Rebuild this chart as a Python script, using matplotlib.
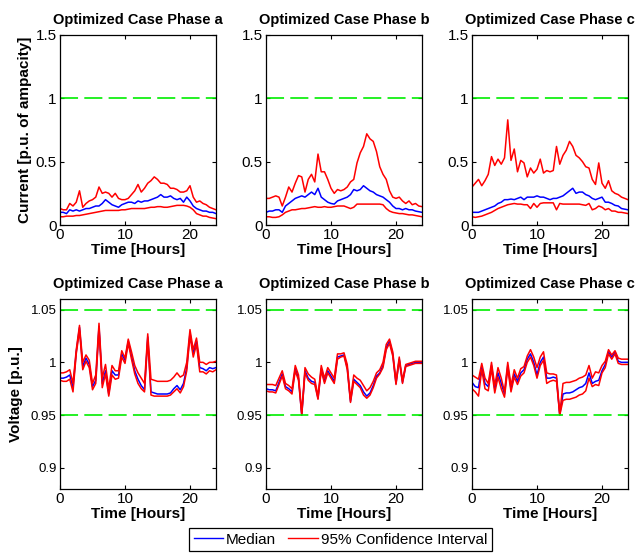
import numpy as np
import matplotlib
matplotlib.use("Agg")
import matplotlib.pyplot as plt
from matplotlib.lines import Line2D

plt.rcParams['font.family'] = ['Liberation Sans', 'DejaVu Sans']
plt.rcParams['lines.scale_dashes'] = False

# time axis (hours), half-hour samples
hours = np.arange(0, 24.5, 0.5)

titles = ["Optimized Case Phase a", "Optimized Case Phase b", "Optimized Case Phase c"]
xticks = [0, 10, 20]
cur_yticks = [0, 0.5, 1, 1.5]
cur_yticklabels = ["0", "0.5", "1", "1.5"]
volt_yticks = [0.9, 0.95, 1, 1.05]
volt_yticklabels = ["0.9", "0.95", "1", "1.05"]
cur_limit = [1.0]
volt_limits = [0.95, 1.05]

# ---- Current (p.u. of ampacity) ----
cur_a_upper = [0.13, 0.12, 0.12, 0.17, 0.15, 0.18, 0.27, 0.14, 0.17, 0.19, 0.20, 0.22, 0.30, 0.25,
               0.26, 0.25, 0.22, 0.25, 0.21, 0.20, 0.20, 0.21, 0.24, 0.27, 0.32, 0.26, 0.29, 0.33,
               0.35, 0.38, 0.36, 0.33, 0.33, 0.32, 0.29, 0.29, 0.28, 0.26, 0.26, 0.27, 0.31, 0.22,
               0.18, 0.19, 0.17, 0.16, 0.14, 0.13, 0.12]
cur_a_median = [0.10, 0.10, 0.09, 0.12, 0.11, 0.12, 0.11, 0.12, 0.13, 0.13, 0.14, 0.15, 0.15, 0.17,
                0.20, 0.18, 0.16, 0.15, 0.14, 0.16, 0.17, 0.18, 0.18, 0.17, 0.19, 0.18, 0.19, 0.19,
                0.20, 0.21, 0.22, 0.24, 0.22, 0.22, 0.23, 0.21, 0.20, 0.21, 0.18, 0.22, 0.19, 0.15,
                0.13, 0.12, 0.11, 0.11, 0.10, 0.10, 0.09]
cur_a_lower = [0.065, 0.065, 0.07, 0.07, 0.07, 0.075, 0.075, 0.08, 0.085, 0.09, 0.095, 0.10, 0.105,
               0.11, 0.115, 0.115, 0.115, 0.115, 0.115, 0.12, 0.12, 0.125, 0.13, 0.13, 0.13, 0.13,
               0.13, 0.135, 0.14, 0.14, 0.145, 0.145, 0.14, 0.14, 0.145, 0.15, 0.155, 0.155, 0.155,
               0.15, 0.14, 0.12, 0.09, 0.08, 0.07, 0.07, 0.06, 0.055, 0.05]

cur_b_upper = [0.21, 0.21, 0.22, 0.23, 0.22, 0.15, 0.22, 0.30, 0.26, 0.33, 0.39, 0.38, 0.26, 0.36,
               0.40, 0.34, 0.56, 0.42, 0.42, 0.36, 0.29, 0.25, 0.28, 0.27, 0.28, 0.30, 0.34, 0.36,
               0.49, 0.57, 0.62, 0.72, 0.68, 0.66, 0.58, 0.46, 0.40, 0.36, 0.27, 0.22, 0.21, 0.22,
               0.19, 0.17, 0.19, 0.16, 0.17, 0.15, 0.145]
cur_b_median = [0.10, 0.11, 0.11, 0.12, 0.12, 0.10, 0.15, 0.17, 0.19, 0.21, 0.22, 0.23, 0.22, 0.24,
                0.26, 0.24, 0.29, 0.22, 0.20, 0.18, 0.17, 0.165, 0.19, 0.20, 0.21, 0.22, 0.24, 0.28,
                0.27, 0.28, 0.31, 0.29, 0.27, 0.26, 0.24, 0.23, 0.22, 0.20, 0.18, 0.15, 0.13, 0.13,
                0.12, 0.13, 0.12, 0.12, 0.11, 0.105, 0.10]
cur_b_lower = [0.065, 0.065, 0.06, 0.06, 0.065, 0.08, 0.10, 0.11, 0.12, 0.12, 0.125, 0.13, 0.13,
               0.135, 0.14, 0.145, 0.14, 0.14, 0.145, 0.14, 0.14, 0.145, 0.15, 0.15, 0.15, 0.14,
               0.13, 0.14, 0.165, 0.165, 0.165, 0.165, 0.165, 0.165, 0.165, 0.165, 0.16, 0.13,
               0.11, 0.10, 0.095, 0.09, 0.09, 0.085, 0.08, 0.08, 0.075, 0.07, 0.065]

cur_c_upper = [0.30, 0.33, 0.36, 0.31, 0.35, 0.40, 0.54, 0.47, 0.52, 0.48, 0.53, 0.83, 0.51, 0.60,
               0.42, 0.51, 0.49, 0.38, 0.45, 0.41, 0.44, 0.52, 0.41, 0.43, 0.42, 0.43, 0.62, 0.48,
               0.55, 0.59, 0.66, 0.62, 0.55, 0.53, 0.50, 0.46, 0.45, 0.36, 0.32, 0.49, 0.33, 0.29,
               0.35, 0.27, 0.25, 0.24, 0.22, 0.21, 0.20]
cur_c_median = [0.10, 0.10, 0.10, 0.11, 0.12, 0.13, 0.14, 0.15, 0.17, 0.18, 0.20, 0.20, 0.205, 0.20,
                0.21, 0.22, 0.20, 0.22, 0.22, 0.22, 0.23, 0.22, 0.22, 0.21, 0.20, 0.21, 0.21, 0.22,
                0.23, 0.25, 0.27, 0.29, 0.25, 0.26, 0.26, 0.24, 0.23, 0.21, 0.20, 0.21, 0.22, 0.18,
                0.18, 0.17, 0.155, 0.15, 0.13, 0.125, 0.12]
cur_c_lower = [0.065, 0.06, 0.065, 0.07, 0.08, 0.09, 0.10, 0.115, 0.13, 0.14, 0.15, 0.16, 0.165,
               0.17, 0.165, 0.165, 0.16, 0.16, 0.13, 0.17, 0.14, 0.17, 0.175, 0.175, 0.175, 0.175,
               0.12, 0.17, 0.165, 0.165, 0.165, 0.165, 0.165, 0.165, 0.16, 0.155, 0.17, 0.12,
               0.13, 0.15, 0.14, 0.12, 0.13, 0.11, 0.11, 0.10, 0.10, 0.095, 0.09]

# ---- Voltage (p.u.) ----
volt_a_upper = [0.990, 0.990, 0.991, 0.993, 0.980, 1.012, 1.035, 1.000, 1.007, 1.002, 0.980, 0.988,
                1.037, 0.985, 0.998, 0.975, 0.997, 0.992, 0.992, 1.011, 1.004, 1.022, 1.010, 0.997,
                0.990, 0.985, 0.980, 1.027, 0.984, 0.983, 0.982, 0.982, 0.982, 0.982, 0.983, 0.986,
                0.990, 0.986, 0.988, 1.000, 1.031, 1.012, 1.023, 1.000, 1.000, 0.998, 1.000, 1.000,
                1.001]
volt_a_median = [0.985, 0.985, 0.986, 0.988, 0.976, 1.010, 1.033, 0.996, 1.004, 0.998, 0.977, 0.983,
                 1.034, 0.980, 0.992, 0.970, 0.992, 0.988, 0.988, 1.008, 1.002, 1.020, 1.006, 0.992,
                 0.984, 0.978, 0.974, 1.024, 0.972, 0.971, 0.970, 0.970, 0.970, 0.970, 0.971, 0.975,
                 0.978, 0.974, 0.980, 0.995, 1.028, 1.008, 1.020, 0.995, 0.994, 0.992, 0.995, 0.994,
                 0.995]
volt_a_lower = [0.983, 0.982, 0.982, 0.984, 0.972, 1.008, 1.030, 0.993, 1.001, 0.995, 0.974, 0.980,
                1.031, 0.976, 0.989, 0.968, 0.988, 0.984, 0.985, 1.005, 0.999, 1.018, 1.003, 0.989,
                0.980, 0.975, 0.972, 1.021, 0.969, 0.968, 0.968, 0.968, 0.968, 0.968, 0.969, 0.972,
                0.975, 0.971, 0.977, 0.992, 1.025, 1.005, 1.017, 0.991, 0.991, 0.989, 0.992, 0.991,
                0.993]

volt_b_upper = [0.979, 0.979, 0.979, 0.978, 0.985, 0.992, 0.980, 0.978, 0.975, 0.997, 0.988, 0.952,
                0.995, 0.989, 0.986, 0.984, 0.968, 0.997, 0.985, 0.995, 0.990, 0.985, 1.008, 1.008,
                1.009, 0.998, 0.965, 0.988, 0.985, 0.983, 0.978, 0.973, 0.976, 0.982, 0.990, 0.993,
                1.000, 1.017, 1.022, 1.010, 0.982, 1.005, 0.983, 0.998, 0.999, 1.000, 1.001, 1.001,
                1.001]
volt_b_median = [0.975, 0.974, 0.974, 0.973, 0.981, 0.989, 0.977, 0.975, 0.972, 0.994, 0.985, 0.950,
                 0.992, 0.985, 0.982, 0.981, 0.966, 0.994, 0.982, 0.992, 0.987, 0.982, 1.005, 1.006,
                 1.007, 0.995, 0.963, 0.984, 0.981, 0.978, 0.972, 0.968, 0.971, 0.978, 0.987, 0.990,
                 0.997, 1.014, 1.020, 1.008, 0.980, 1.003, 0.981, 0.997, 0.998, 0.999, 1.000, 1.000,
                 1.000]
volt_b_lower = [0.973, 0.972, 0.972, 0.971, 0.979, 0.987, 0.975, 0.973, 0.970, 0.992, 0.983, 0.950,
                0.990, 0.983, 0.980, 0.979, 0.965, 0.992, 0.980, 0.990, 0.985, 0.980, 1.003, 1.005,
                1.006, 0.993, 0.962, 0.982, 0.979, 0.976, 0.969, 0.966, 0.969, 0.976, 0.985, 0.989,
                0.995, 1.012, 1.018, 1.006, 0.979, 1.002, 0.980, 0.996, 0.997, 0.998, 0.999, 0.999,
                0.999]

volt_c_upper = [0.988, 0.986, 0.984, 0.999, 0.985, 0.980, 1.000, 0.978, 0.995, 0.985, 0.972, 1.000,
                0.978, 0.993, 0.985, 0.994, 0.996, 1.006, 1.012, 1.005, 0.995, 1.005, 1.010, 0.990,
                0.989, 0.989, 0.988, 0.951, 0.980, 0.981, 0.981, 0.982, 0.983, 0.985, 0.986, 0.988,
                0.997, 0.985, 0.991, 0.990, 0.997, 1.001, 1.012, 1.007, 1.011, 1.004, 1.003, 1.003,
                1.003]
volt_c_median = [0.981, 0.977, 0.976, 0.996, 0.980, 0.977, 0.997, 0.975, 0.990, 0.980, 0.970, 0.997,
                 0.975, 0.989, 0.982, 0.990, 0.993, 1.003, 1.008, 1.000, 0.988, 1.000, 1.005, 0.985,
                 0.985, 0.986, 0.985, 0.950, 0.970, 0.971, 0.971, 0.972, 0.974, 0.976, 0.977, 0.980,
                 0.990, 0.980, 0.982, 0.983, 0.992, 0.998, 1.010, 1.005, 1.010, 1.001, 1.000, 1.000,
                 1.000]
volt_c_lower = [0.975, 0.972, 0.968, 0.993, 0.975, 0.973, 0.994, 0.971, 0.986, 0.975, 0.967, 0.994,
                0.972, 0.986, 0.979, 0.987, 0.990, 1.000, 1.005, 0.997, 0.985, 0.997, 1.002, 0.980,
                0.982, 0.983, 0.982, 0.950, 0.964, 0.965, 0.965, 0.966, 0.967, 0.969, 0.970, 0.973,
                0.985, 0.977, 0.979, 0.978, 0.990, 0.995, 1.008, 1.003, 1.008, 0.999, 0.998, 0.998,
                0.998]

current = [(cur_a_median, cur_a_upper, cur_a_lower),
           (cur_b_median, cur_b_upper, cur_b_lower),
           (cur_c_median, cur_c_upper, cur_c_lower)]
voltage = [(volt_a_median, volt_a_upper, volt_a_lower),
           (volt_b_median, volt_b_upper, volt_b_lower),
           (volt_c_median, volt_c_upper, volt_c_lower)]

W, H = 639, 555
fig = plt.figure(figsize=(W / 100, H / 100), dpi=100)

lefts = [60, 266, 472]
axw, axh = 156, 190
tops = [35, 299]

BLUE = '#0000ff'
RED = '#ff0000'
GREEN = '#00ee00'

def style_axes(ax, ytick_fs):
    ax.tick_params(direction='in', length=3, width=0.8, top=True, right=True, pad=2.5)
    ax.tick_params(axis='x', labelsize=11)
    ax.tick_params(axis='y', labelsize=ytick_fs)
    for s in ax.spines.values():
        s.set_linewidth(0.9)
    ax.set_xlim(0, 24)
    ax.set_xticks(xticks)
    ax.set_xticklabels([str(v) for v in xticks])

for row in range(2):
    for col in range(3):
        l = lefts[col] / W
        b = 1 - (tops[row] + axh) / H
        ax = fig.add_axes([l, b, axw / W, axh / H])
        data = current[col] if row == 0 else voltage[col]
        med, up, lo = data
        ax.plot(hours, med, color=BLUE, lw=1.1)
        ax.plot(hours, up, color=RED, lw=1.1)
        ax.plot(hours, lo, color=RED, lw=1.1)
        lims = cur_limit if row == 0 else volt_limits
        for v in lims:
            ax.axhline(v, color=GREEN, lw=1.2, dashes=(13, 4.5))
        if row == 0:
            style_axes(ax, 11)
            ax.set_ylim(0, 1.5)
            ax.set_yticks(cur_yticks)
            ax.set_yticklabels(cur_yticklabels)
            if col == 0:
                ax.set_ylabel("Current [p.u. of ampacity]", fontsize=11, fontweight='bold')
                ax.yaxis.set_label_coords((32 - 60) / axw, 0.5)
        else:
            style_axes(ax, 9.5)
            ax.set_ylim(0.88, 1.06)
            ax.set_yticks(volt_yticks)
            ax.set_yticklabels(volt_yticklabels)
            if col == 0:
                ax.set_ylabel("Voltage [p.u.]", fontsize=11, fontweight='bold')
                ax.yaxis.set_label_coords((23 - 60) / axw, 0.5)
        ax.set_xlabel("Time [Hours]", fontsize=11, fontweight='bold', labelpad=0.5)
        ax.set_title(titles[col], fontsize=10.5, fontweight='bold', pad=8)

handles = [Line2D([], [], color=BLUE, lw=1.0), Line2D([], [], color=RED, lw=1.0)]
leg = fig.legend(handles, ["Median", "95% Confidence Interval"], loc='upper center',
                 bbox_to_anchor=(340.5 / W, 1 - 528 / H), ncol=2, fontsize=11,
                 frameon=True, fancybox=False, edgecolor='black', framealpha=1,
                 handlelength=1.9, handletextpad=0.2, columnspacing=0.8, borderpad=0.3,
                 borderaxespad=0)
leg.get_frame().set_linewidth(0.9)

fig.savefig("out.png", dpi=100)
